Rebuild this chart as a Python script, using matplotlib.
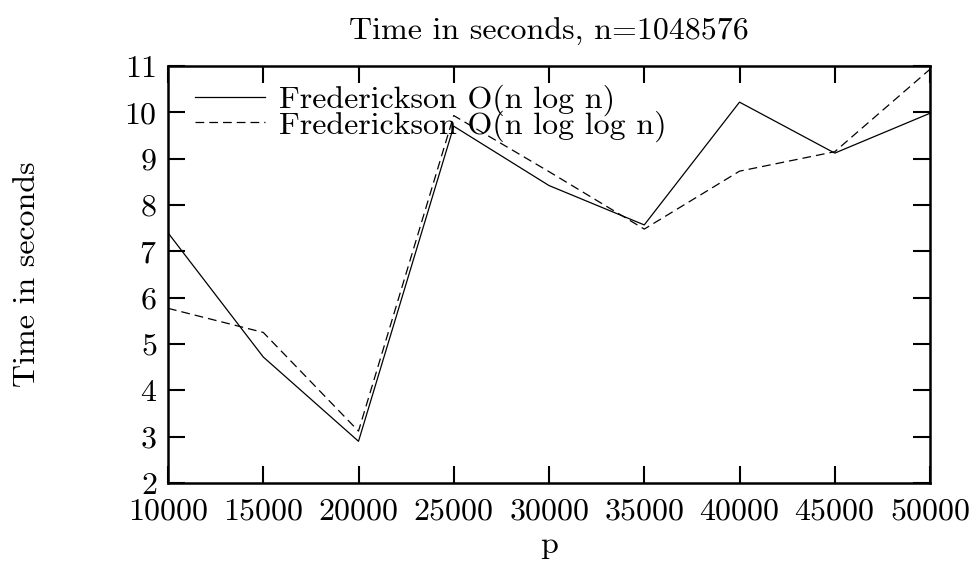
import matplotlib
matplotlib.use("Agg")
import matplotlib.pyplot as plt

# data
p = [10000, 15000, 20000, 25000, 30000, 35000, 40000, 45000, 50000]
t_nlogn = [7.4, 4.72, 2.9, 9.7, 8.42, 7.57, 10.22, 9.12, 9.98]
t_nloglogn = [5.77, 5.25, 3.12, 9.93, 8.72, 7.48, 8.73, 9.15, 10.93]
x_ticks = [10000, 15000, 20000, 25000, 30000, 35000, 40000, 45000, 50000]
y_ticks = [2, 3, 4, 5, 6, 7, 8, 9, 10, 11]

plt.rcParams['font.family'] = ['cmr10', 'DejaVu Serif']
plt.rcParams['axes.formatter.use_mathtext'] = True
plt.rcParams['font.size'] = 23

fig = plt.figure(figsize=(9.71, 5.65), dpi=100)
ax = fig.add_axes([168 / 971, 1 - 483 / 565, 762 / 971, 417 / 565])

ax.plot(p, t_nlogn, color='black', lw=0.9, label='Frederickson O(n log n)')
ax.plot(p, t_nloglogn, color='black', lw=0.9, dashes=(7, 4),
        label='Frederickson O(n log log n)')

ax.set_xlim(10000, 50000)
ax.set_ylim(2, 11)
ax.set_xticks(x_ticks)
ax.set_yticks(y_ticks)
ax.tick_params(direction='in', length=12, width=1.5, top=True, right=True,
               labelsize=23)
ax.tick_params(axis='x', pad=11)
ax.tick_params(axis='y', pad=8)
for s in ax.spines.values():
    s.set_linewidth(1.8)

ax.set_title('Time in seconds, n=1048576', fontsize=23, pad=19)
ax.set_xlabel('p', fontsize=23, labelpad=4)
ax.set_ylabel('Time in seconds', fontsize=23, labelpad=60)

leg = ax.legend(loc='upper left', frameon=False, handlelength=2.2,
                handletextpad=0.45, labelspacing=-0.19, borderaxespad=0,
                borderpad=0, bbox_to_anchor=(0.035, 0.955))

fig.savefig('out.png', dpi=100)
